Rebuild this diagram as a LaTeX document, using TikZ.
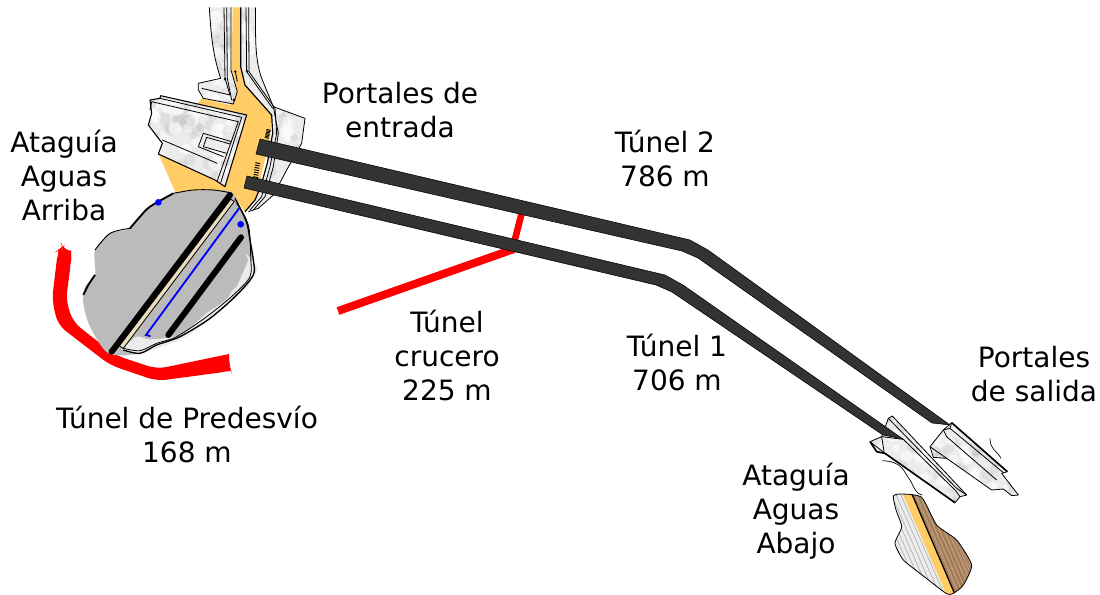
\documentclass[tikz,border=0pt]{standalone}
\usepackage{fontspec}
\setmainfont{DejaVu Sans}
\definecolor{riverc}{HTML}{FFCC66}
\definecolor{rockc}{HTML}{ECECEC}
\definecolor{tunnelc}{HTML}{333333}
\definecolor{blobc}{HTML}{BBBBBB}
\definecolor{brownc}{HTML}{A87A50}
\definecolor{beigec}{HTML}{EBDDC0}
\newcommand{\mottle}[4]{%
  \pgfmathsetseed{#1}%
  \foreach \n in {1,...,#4} {
    \pgfmathsetmacro{\mx}{#2*rnd}
    \pgfmathsetmacro{\my}{#3*rnd}
    \pgfmathsetmacro{\mr}{8+14*rnd}
    \fill[white,opacity=.55] (\mx,\my) circle (\mr);
    \pgfmathsetmacro{\mx}{#2*rnd}
    \pgfmathsetmacro{\my}{#3*rnd}
    \fill[black!45,opacity=.13] (\mx,\my) circle (\mr);
  }%
}
\tikzset{
  label/.style={font=\fontsize{21}{25.5}\selectfont,align=center,inner sep=0pt,text=black},
  tunnel/.style={fill=tunnelc,draw=black,line width=.4pt,line join=round},
  redway/.style={draw=red,line width=5pt},
  rock/.style={draw=black,line width=.6pt,line join=round},
  ink/.style={draw=black,line width=.6pt,line join=round},
  zoomA/.style={shift={(130,0)},x=.25pt,y=-.25pt},
  zoomB/.style={shift={(40,180)},x=.25pt,y=-.25pt},
  zoomC/.style={shift={(860,400)},x=.25pt,y=-.25pt}
}
\begin{document}
\begin{tikzpicture}[x=.75pt,y=-.75pt]
\useasboundingbox (0,0) rectangle (1100,594);
% upstream portals and river
\begin{scope}[zoomA]
  \fill[riverc] (308,22)--(330,22)--(332,200)--(345,255)--(425,345)--(420,420)--(395,520)--(380,590)--(345,635)--(300,575)--(135,575)--(85,460)--(215,295)--(300,315)--(322,275)--(305,210)--cycle;
  % right bank
  \begin{scope}
    \clip (330,22)--(376,22)--(378,170)--(395,235)--(430,320)--(525,355)--(515,430)--(470,510)--(430,585)--(385,625)--(355,635)--(390,570)--(412,490)--(428,400)--(425,345)--(348,255)--(332,200)--cycle;
    \fill[rockc] (320,0) rectangle (540,650);
    \begin{scope}[shift={(320,0)}]\mottle{11}{220}{650}{45}\end{scope}
  \end{scope}
  \draw[ink] (376,22)..controls (378,100) and (372,170) ..(395,235)--(430,320)--(525,355)--(515,430)--(470,510)--(430,585)--(385,625)--(355,635);
  \draw[ink] (348,22)--(350,215)--(428,325);
  \draw[ink,line width=.9pt] (332,22)--(332,200)--(345,255)--(425,345)--(428,400)--(412,490)--(392,560)--(375,600)--(345,635);
  \draw[ink] (356,22)--(357,215)--(435,325)--(440,400)--(420,500)--(395,590)--(360,630);
  \draw[ink] (430,320)--(445,400)--(430,500)--(405,590)--(370,630);
  % left bank
  \begin{scope}
    \clip (238,22)--(245,120)--(260,190)--(272,235)--(205,250)--(205,270)--(220,295)--(310,312)--(322,275)--(303,210)--(303,22)--cycle;
    \fill[rockc] (200,0) rectangle (330,320);
    \begin{scope}[shift={(200,0)}]\mottle{5}{130}{320}{30}\end{scope}
  \end{scope}
  \draw[ink] (238,22)..controls (243,110) and (250,170) ..(272,235)--(205,250)--(205,270)--(220,295)--(310,312)--(322,275)--(303,210)--(303,22);
  \draw[ink] (282,22)--(285,235)--(300,285)--(215,265);
  \draw[ink] (290,22)--(292,235)--(305,300);
  \fill[black] (312,300) circle (5) (316,215) circle (4) (285,237) circle (4) (352,214) circle (4);
  \draw[ink] (316,215)--(322,245);
  % left cofferdam block
  \begin{scope}
    \clip (60,300)--(90,295)--(92,287)--(350,345)--(285,560)--(255,540)--(85,462)--(97,430)--(55,375)--(65,340)--cycle;
    \fill[rockc] (50,280) rectangle (360,570);
    \begin{scope}[shift={(50,280)}]\mottle{7}{310}{290}{60}\end{scope}
  \end{scope}
  \draw[rock,line width=.8pt] (60,300)--(90,295)--(92,287)--(350,345)--(285,560)--(255,540)--(85,462)--(97,430)--(55,375)--(65,340)--cycle;
  \draw[ink] (90,295)--(335,352)--(272,548);
  \draw[ink] (65,305)--(325,365)--(262,542);
  \draw[ink] (60,330)--(65,305);
  \draw[ink] (97,420)--(262,490);
  \draw[ink] (205,440)--(220,400)--(305,425);
  \draw[ink] (220,440)--(230,412)--(300,432);
  \draw[ink] (205,440)--(280,470);
  \draw[ink] (220,440)--(290,460);
  % lettering-like marks beside the portals
  \foreach \k in {0,...,6} {
    \draw[black,line width=.7pt] ({404+\k},{412-\k*4})--({416+\k},{415-\k*4});
    \draw[black,line width=.7pt] ({370+\k},{530-\k*7})--({384+\k},{533-\k*7});
  }
\end{scope}
% cross tunnel
\draw[redway] (522,212)--(514,243);
\draw[redway,line width=6pt] (514,249)--(338,311);
% pre-diversion tunnel
\fill[red,rounded corners=7pt] (58,250)--(62,247)--(63,251)--(71,251)--(71,262)--(66,300)--(73,322)--(115,355)--(157,369)--(229,354)--(229,366)--(231,371)--(157,381)--(110,365)--(58,325)--(52,300)--cycle;
\fill[red] (58,252)--(62,247)--(63,251)--(71,251)--(71,262)--(60,262)--cycle;
\fill[red] (229,354)--(229,366)--(231,371)--(220,372)--(220,356)--cycle;
% upstream cofferdam
\begin{scope}[zoomB]
  \fill[blobc] plot[smooth cycle,tension=.45] coordinates {(205,520)(150,440)(130,370)(135,320)(165,285)(165,210)(210,160)(270,145)(330,80)(400,40)(520,30)(580,40)(610,110)(630,170)(640,260)(635,300)(590,350)(510,415)(420,470)(300,520)};
  \fill[rockc] plot[smooth cycle,tension=.4] coordinates {(250,510)(290,470)(330,478)(420,465)(500,400)(570,345)(600,215)(652,262)(635,300)(590,350)(510,420)(420,480)(300,520)};
  \fill[blobc] (330,470)--(600,190)--(625,240)--(590,320)--(500,395)--(420,462)--cycle;
  \draw[black,line width=1pt] plot[smooth,tension=.5] coordinates {(585,55)(608,100)(622,135)(630,180)(640,240)(640,285)(590,345)(510,415)(420,470)(350,495)(300,520)(250,510)};
  \draw[black,line width=.6pt] plot[smooth,tension=.5] coordinates {(590,70)(615,110)(628,150)(632,230)(630,290)(580,345)(500,410)(410,470)(350,490)(300,512)(250,505)};
  \draw[black,line width=1.4pt] plot[smooth,tension=.5] coordinates {(130,345)(145,315)(165,285)};
  \draw[black,line width=1.4pt] plot[smooth,tension=.5] coordinates {(270,145)(300,110)(330,80)(400,40)};
  \draw[black,line width=.7pt] plot[smooth,tension=.5] coordinates {(165,210)(210,160)(270,145)};
  \draw[black,line width=.7pt] plot[smooth,tension=.5] coordinates {(400,40)(460,30)(520,30)(570,38)};
  \draw[black,line width=4.5pt,line cap=round] (570,45)--(215,515);
  \draw[black,line width=.6pt,fill=beigec] (572,58)--(583,64)--(250,505)--(238,498)--cycle;
  \draw[blue,line width=1.4pt,line cap=round] (597,85)--(318,465)--(330,468);
  \draw[black,line width=4.5pt,line cap=round] (603,172)--(385,465);
  \fill[blue] (355,67) circle (10) (602,133) circle (10);
\end{scope}
% downstream portals
\begin{scope}[zoomC]
  \begin{scope}
    \clip (30,125)--(65,110)--(85,55)--(97,48)--(320,285)--(300,290)--(285,308)--(75,160)--(50,155)--cycle;
    \fill[rockc] (20,40) rectangle (330,320);
    \begin{scope}[shift={(20,40)}]\mottle{3}{310}{280}{45}\end{scope}
  \end{scope}
  \draw[rock] (30,125)--(65,110)--(85,55)--(97,48)--(320,285)--(300,290)--(285,308)--(75,160)--(50,155)--cycle;
  \draw[ink] (65,110)--(72,155);
  \draw[ink] (65,110)--(130,118)--(285,270)--(300,290);
  \draw[ink] (85,55)--(290,265)--(320,285);
  \draw[ink] (30,125)--(75,160);
  \draw[black,line width=1.2pt] (30,125)--(50,155)--(75,160)--(285,308);
  \begin{scope}
    \clip (210,140)--(250,90)--(275,68)--(442,215)--(425,220)--(475,285)--(455,287)--(430,267)--(395,270)--(260,175)--(220,172)--cycle;
    \fill[rockc] (200,60) rectangle (480,290);
    \begin{scope}[shift={(200,60)}]\mottle{9}{280}{230}{45}\end{scope}
  \end{scope}
  \draw[rock] (210,140)--(250,90)--(275,68)--(442,215)--(425,220)--(475,285)--(455,287)--(430,267)--(395,270)--(260,175)--(220,172)--cycle;
  \draw[ink] (210,140)--(260,175);
  \draw[ink] (250,90)--(270,85)--(430,218);
  \draw[ink] (270,85)--(275,68);
  \draw[ink] (250,90)--(260,110)--(410,240);
  \draw[black,line width=1.2pt] (275,68)--(442,215);
  \draw[ink,line width=.5pt] (390,115)..controls (390,150) and (410,150) .. (423,175);
  \draw[ink,line width=.5pt] (67,182)..controls (130,185) and (130,215) .. (150,240) .. controls (165,265) and (165,280) .. (187,285);
  % lower cofferdam
  \begin{scope}
    \clip plot[smooth cycle,tension=.35] coordinates {(100,288)(125,282)(185,292)(230,375)(290,420)(335,495)(310,555)(280,580)(258,580)(180,520)(130,480)(105,430)(125,380)(108,330)};
    \fill[brownc] (150,270) rectangle (340,590);
    \fill[rockc] (90,270)--(150,270)--(285,590)--(90,590)--cycle;
    \foreach \k in {-8,...,14} {
      \draw[gray!70!white,line width=.4pt] ({60+\k*14},270)--({\k*14+200},590);
    }
    \foreach \k in {0,1,...,20} {
      \draw[brownc!70!white,line width=.6pt] ({150+\k*12},270)--({\k*12+290},590);
    }
    \fill[riverc] (125,275)--(155,275)--(290,590)--(262,590)--cycle;
    \draw[black,line width=1pt] (155,280)--(288,590);
  \end{scope}
  \draw[ink] plot[smooth cycle,tension=.35] coordinates {(100,288)(125,282)(185,292)(230,375)(290,420)(335,495)(310,555)(280,580)(258,580)(180,520)(130,480)(105,430)(125,380)(108,330)};
\end{scope}
% tunnels
\path[tunnel] (260,139)--(690,240)--(708,250)--(950,425)--(932,423)--(698,258)--(682,251)--(256,154)--cycle;
\path[tunnel] (247,176)--(665,275)--(683,285)--(903,439)--(883,435)--(672,292)--(656,285)--(244,188)--cycle;
% labels
\node[label] (pe) at (400,110) {Portales de\\entrada};
\node[label] (aar) at (64,175) {Ataguía\\Aguas\\Arriba};
\node[label] (t2) at (665,158) {Túnel 2\\786 m};
\node[label] (t1) at (677,362) {Túnel 1\\706 m};
\node[label] (tc) at (447,355) {Túnel\\crucero\\225 m};
\node[label] (tp) at (187,434) {Túnel de Predesvío\\168 m};
\node[label] (ps) at (1034,374) {Portales\\de salida};
\node[label] (aab) at (796,511) {Ataguía\\Aguas\\Abajo};
\end{tikzpicture}
\end{document}
